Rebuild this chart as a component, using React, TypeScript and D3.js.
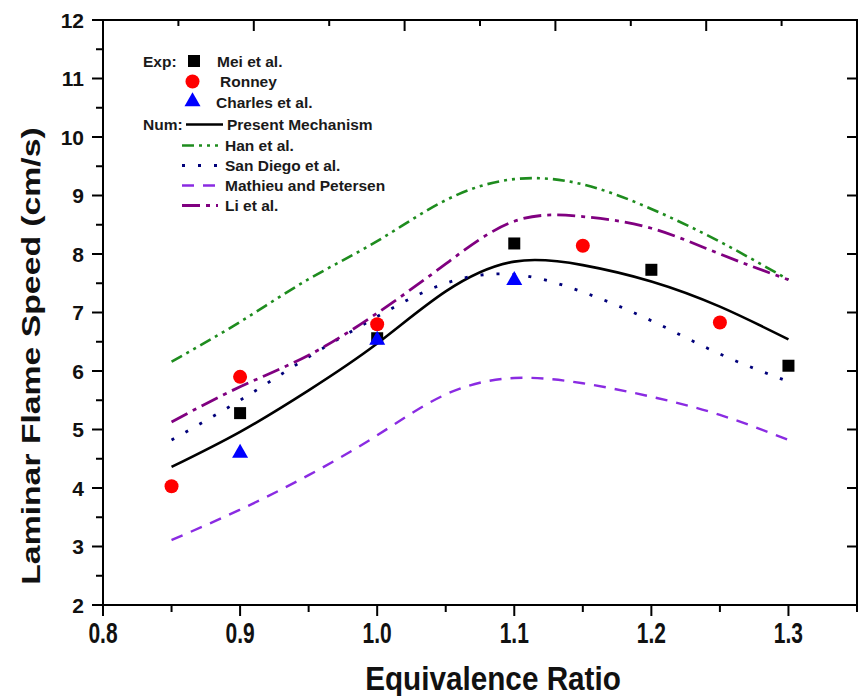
import React from "react";
import * as d3 from "d3";

const xTicks = [0.8, 0.9, 1.0, 1.1, 1.2, 1.3];
const xMinor = [0.85, 0.95, 1.05, 1.15, 1.25, 1.35];
const yTicks = [2, 3, 4, 5, 6, 7, 8, 9, 10, 11, 12];
const yMinor = [2.5, 3.5, 4.5, 5.5, 6.5, 7.5, 8.5, 9.5, 10.5, 11.5];
const topTicks = [0, 1, 2, 3, 4, 5, 6, 7, 8, 9, 10];

const curvePhi = [0.85, 0.9, 0.95, 1.0, 1.05, 1.1, 1.15, 1.2, 1.25, 1.3];
const present = [4.36, 4.96, 5.67, 6.47, 7.36, 7.87, 7.81, 7.53, 7.1, 6.54];
const han = [6.16, 6.84, 7.57, 8.22, 8.92, 9.28, 9.19, 8.77, 8.21, 7.56];
const sanDiego = [4.82, 5.5, 6.24, 6.93, 7.5, 7.65, 7.35, 6.86, 6.29, 5.82];
const mathieu = [3.11, 3.63, 4.22, 4.9, 5.6, 5.88, 5.79, 5.56, 5.25, 4.82];
const li = [5.13, 5.73, 6.27, 6.99, 7.83, 8.56, 8.64, 8.44, 8.0, 7.56];

const meiPhi = [0.9, 1.0, 1.1, 1.2, 1.3];
const meiVal = [5.28, 6.56, 8.18, 7.73, 6.09];
const ronneyPhi = [0.85, 0.9, 1.0, 1.15, 1.25];
const ronneyVal = [4.03, 5.9, 6.8, 8.14, 6.83];
const charlesPhi = [0.9, 1.0, 1.1];
const charlesVal = [4.61, 6.54, 7.56];

const FONT = "'Liberation Sans', Arial, sans-serif";

const L = 103, R = 857, T = 20, B = 605;

export default function App() {
  const x = d3.scaleLinear().domain([0.8, 1.35]).range([L, R]);
  const y = d3.scaleLinear().domain([2, 12]).range([B, T]);
  const xTop = d3.scaleLinear().domain([0, 10]).range([L, R]);

  const line = d3
    .line<[number, number]>()
    .x((d) => x(d[0]))
    .y((d) => y(d[1]))
    .curve(d3.curveNatural);

  const mk = (vals: number[]) => line(curvePhi.map((p, i) => [p, vals[i]] as [number, number])) || "";

  const series = [
    { name: "Present Mechanism", vals: present, color: "#000000", dash: "none", w: 2.6 },
    { name: "Han et al.", vals: han, color: "#1e8c1e", dash: "12 5 3 5 3 5", w: 2.6 },
    { name: "San Diego et al.", vals: sanDiego, color: "#00007a", dash: "3 13", w: 2.8 },
    { name: "Mathieu and Petersen", vals: mathieu, color: "#8a2be2", dash: "12 9", w: 2.4 },
    { name: "Li et al.", vals: li, color: "#800080", dash: "18 6 4 6", w: 2.8 },
  ];

  const sq = 12;
  const tri = (cx: number, cy: number) => {
    const h = 14, w = 16;
    return `M${cx},${cy - h * 0.62}L${cx + w / 2},${cy + h * 0.38}L${cx - w / 2},${cy + h * 0.38}Z`;
  };

  const legendTextX = 225;
  const lgRows = [
    { y: 124.5, s: series[0], x1: 186, x2: 223, tx: 227 },
    { y: 145.5, s: series[1], x1: 182, x2: 218, tx: legendTextX },
    { y: 165.5, s: series[2], x1: 182, x2: 218, tx: legendTextX },
    { y: 185.5, s: series[3], x1: 182, x2: 218, tx: legendTextX },
    { y: 205.5, s: series[4], x1: 182, x2: 218, tx: legendTextX },
  ];

  return (
    <svg
      width={863}
      height={696}
      style={{ position: "absolute", left: 0, top: 0, background: "#fff" }}
      fontFamily={FONT}
    >
      <rect x={0} y={0} width={863} height={696} fill="#fff" />
      {/* curves */}
      <g fill="none">
        {series.map((s) => (
          <path
            key={s.name}
            d={mk(s.vals)}
            stroke={s.color}
            strokeWidth={s.w}
            strokeDasharray={s.dash}
          />
        ))}
      </g>
      {/* markers */}
      {meiPhi.map((p, i) => (
        <rect key={"m" + i} x={x(p) - sq / 2} y={y(meiVal[i]) - sq / 2} width={sq} height={sq} fill="#000" />
      ))}
      {ronneyPhi.map((p, i) => (
        <circle key={"r" + i} cx={x(p)} cy={y(ronneyVal[i])} r={7} fill="#ff0000" />
      ))}
      {charlesPhi.map((p, i) => (
        <path key={"c" + i} d={tri(x(p), y(charlesVal[i]))} fill="#0000ff" />
      ))}

      {/* frame */}
      <rect x={L} y={T} width={R - L} height={B - T} fill="none" stroke="#000" strokeWidth={2} />
      {/* left ticks */}
      {yTicks.map((t) => (
        <g key={"yt" + t}>
          <line x1={L - 11} x2={L} y1={y(t)} y2={y(t)} stroke="#000" strokeWidth={2} />
          <text x={84} y={y(t)} dy="0.36em" textAnchor="end" fontSize={21} fontWeight="bold" fill="#111">
            {t}
          </text>
        </g>
      ))}
      {yMinor.map((t) => (
        <line key={"ym" + t} x1={L - 7} x2={L} y1={y(t)} y2={y(t)} stroke="#000" strokeWidth={2} />
      ))}
      {/* right ticks inward */}
      {yTicks.map((t) => (
        <line key={"yr" + t} x1={R - 10} x2={R} y1={y(t)} y2={y(t)} stroke="#000" strokeWidth={2} />
      ))}
      {/* bottom ticks */}
      {xTicks.map((t) => (
        <g key={"xt" + t}>
          <line x1={x(t)} x2={x(t)} y1={B} y2={B + 11} stroke="#000" strokeWidth={2} />
          <text
            transform={`translate(${x(t)},643) scale(0.7,1)`}
            textAnchor="middle"
            fontSize={30}
            fontWeight="bold"
            fill="#111"
          >
            {d3.format(".1f")(t)}
          </text>
        </g>
      ))}
      {xMinor.map((t) => (
        <line key={"xm" + t} x1={x(t)} x2={x(t)} y1={B} y2={B + 7} stroke="#000" strokeWidth={2} />
      ))}
      {/* top ticks inward */}
      {topTicks.map((t) => (
        <line
          key={"tt" + t}
          x1={xTop(t)}
          x2={xTop(t)}
          y1={T}
          y2={T + (t % 2 === 0 ? 11 : 6)}
          stroke="#000"
          strokeWidth={2}
        />
      ))}

      {/* axis titles */}
      <text
        transform={`translate(493,690) scale(0.9,1)`}
        textAnchor="middle"
        fontSize={33}
        fontWeight="bold"
        fill="#111"
      >
        Equivalence Ratio
      </text>
      <text
        transform={`translate(40,356) rotate(-90) scale(1.35,1)`}
        textAnchor="middle"
        fontSize={25}
        fontWeight="bold"
        fill="#111"
      >
        Laminar Flame Speed (cm/s)
      </text>

      {/* legend */}
      <g fontSize={15.5} fontWeight="bold" fill="#1a1a1a">
        <text x={143} y={66.5}>Exp:</text>
        <rect x={194 - 6} y={61 - 6} width={12} height={12} fill="#000" />
        <text x={217} y={66.5}>Mei et al.</text>
        <circle cx={192.5} cy={81.5} r={7} fill="#ff0000" />
        <text x={220} y={87}>Ronney</text>
        <path d={tri(192.5, 101)} fill="#0000ff" />
        <text x={216} y={108}>Charles et al.</text>
        <text x={143} y={129.5}>Num:</text>
        {lgRows.map((r) => (
          <g key={"lg" + r.s.name}>
            <line
              x1={r.x1}
              x2={r.x2}
              y1={r.y}
              y2={r.y}
              stroke={r.s.color}
              strokeWidth={r.s.w}
              strokeDasharray={r.s.dash}
            />
            <text x={r.tx} y={r.y + 5}>{r.s.name}</text>
          </g>
        ))}
      </g>
    </svg>
  );
}
